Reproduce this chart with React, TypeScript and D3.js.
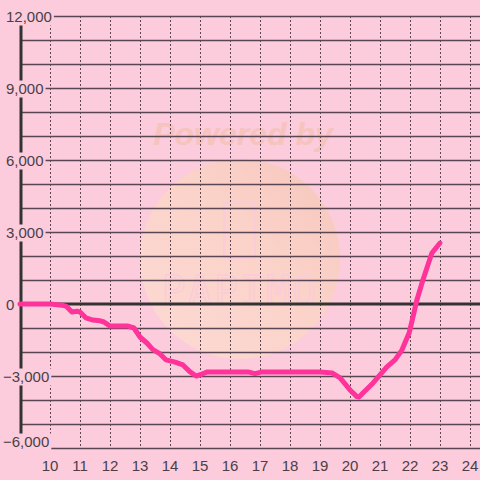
import React, { useEffect, useRef } from "react";
import * as d3 from "d3";

const hours = [9, 10, 10.4, 10.55, 10.73, 10.9, 11.0, 11.2, 11.43, 11.67, 11.8, 12.0, 12.6, 12.8, 13.0, 13.23, 13.43, 13.67, 13.87, 14.17, 14.43, 14.67, 14.87, 15.07, 15.23, 16.0, 16.6, 16.83, 17.07, 18.0, 19.0, 19.4, 19.67, 20.0, 20.23, 20.3, 20.43, 20.77, 21.0, 21.23, 21.5, 21.73, 21.97, 22.1, 22.23, 22.43, 22.73, 23.0];
const values = [0, 0, -50, -100, -330, -300, -330, -580, -670, -700, -750, -920, -920, -1000, -1375, -1625, -1900, -2080, -2330, -2420, -2540, -2830, -3000, -2920, -2830, -2830, -2830, -2900, -2830, -2830, -2830, -2870, -3080, -3580, -3860, -3880, -3710, -3290, -2950, -2620, -2330, -1920, -1210, -540, 170, 1000, 2125, 2540];
const xTicks = [10, 11, 12, 13, 14, 15, 16, 17, 18, 19, 20, 21, 22, 23, 24];
const yLabelTicks = [12000, 9000, 6000, 3000, 0, -3000, -6000];
const yGridTicks = [12000, 11000, 10000, 9000, 8000, 7000, 6000, 5000, 4000, 3000, 2000, 1000, -1000, -2000, -3000, -4000, -5000, -6000];

const BG = "#fccbdc";
const FONT = "Liberation Sans, Arial, sans-serif";

export default function App() {
  const ref = useRef<SVGSVGElement | null>(null);
  useEffect(() => {
    const svg = d3.select(ref.current);
    svg.selectAll("*").remove();
    const x = d3.scaleLinear().domain([10, 24]).range([50, 470]);
    const y = d3.scaleLinear().domain([-6000, 12000]).range([448, 16]);

    svg.append("rect").attr("width", 480).attr("height", 480).attr("fill", BG);

    // watermark
    const defs = svg.append("defs");
    const g = defs.append("linearGradient").attr("id", "wm").attr("x1", "0").attr("y1", "1").attr("x2", "1").attr("y2", "0");
    g.append("stop").attr("offset", "0").attr("stop-color", "#fcdad4");
    g.append("stop").attr("offset", "0.6").attr("stop-color", "#fbd2c8");
    g.append("stop").attr("offset", "1").attr("stop-color", "#f6c6bc");
    svg.append("circle").attr("cx", 240).attr("cy", 259).attr("r", 100).attr("fill", "url(#wm)");
    svg.append("text").attr("x", 243).attr("y", 145).attr("text-anchor", "middle")
      .attr("font-family", FONT).attr("font-weight", "bold").attr("font-style", "italic")
      .attr("font-size", 32).attr("fill", "#f6c3bd").text("Powered by");
    svg.append("rect").attr("x", 224).attr("y", 203).attr("width", 31).attr("height", 55).attr("rx", 2)
      .attr("fill", "none").attr("stroke", "#fccbd8").attr("stroke-width", 2);
    svg.append("text").attr("x", 240).attr("y", 305).attr("text-anchor", "middle")
      .attr("font-family", "DejaVu Sans Mono, monospace").attr("font-size", 40).attr("letter-spacing", 2)
      .attr("fill", "none").attr("stroke", "#fccbd8").attr("stroke-width", 1.5).text("PAPIMO");

    // horizontal grid
    svg.append("g").selectAll("line").data(yGridTicks).join("line")
      .attr("x1", d => (d === -6000 ? 50 : 21)).attr("x2", 480)
      .attr("y1", d => y(d) + 0.5).attr("y2", d => y(d) + 0.5)
      .attr("stroke", "#5a4552").attr("stroke-width", 1.3);

    // vertical grid
    svg.append("g").selectAll("line").data(xTicks).join("line")
      .attr("x1", d => x(d) + 0.5).attr("x2", d => x(d) + 0.5)
      .attr("y1", 16).attr("y2", 448)
      .attr("stroke", "#5a4552").attr("stroke-width", 1).attr("stroke-dasharray", "2,2");

    // y axis
    svg.append("line").attr("x1", 21).attr("x2", 21).attr("y1", 16).attr("y2", 448)
      .attr("stroke", "#333").attr("stroke-width", 3);
    // zero line
    svg.append("line").attr("x1", 21).attr("x2", 480).attr("y1", y(0)).attr("y2", y(0))
      .attr("stroke", "#333").attr("stroke-width", 3);

    // y labels with background
    const yl = svg.append("g");
    yLabelTicks.forEach(v => {
      const ty = y(v) + 5.5 - (v === -6000 ? 7 : 0);
      const t = yl.append("text").attr("x", v < 0 ? 3 : 6).attr("y", ty).attr("text-anchor", "start")
        .attr("font-family", FONT).attr("font-size", 15).attr("fill", "#4a3f47")
        .text(d3.format(",")(v));
      const bb = (t.node() as SVGTextElement).getBBox();
      yl.insert("rect", () => t.node() as any).attr("x", bb.x - 1).attr("y", bb.y + 1).attr("width", bb.width + 3).attr("height", bb.height + (v === -6000 ? 8 : 0))
        .attr("fill", BG);
    });

    // x labels
    svg.append("g").selectAll("text").data(xTicks).join("text")
      .attr("x", d => x(d)).attr("y", 471).attr("text-anchor", "middle")
      .attr("font-family", FONT).attr("font-size", 15).attr("fill", "#4a3f47")
      .text(d => String(d));

    // series
    const line = d3.line<number>().x((_, i) => x(hours[i])).y(d => y(d));
    svg.append("path").attr("d", line(values) as string).attr("fill", "none")
      .attr("stroke", "#ff3399").attr("stroke-width", 5).attr("stroke-linejoin", "round").attr("stroke-linecap", "round");
  }, []);
  return (
    <svg ref={ref} width={480} height={480} style={{ position: "absolute", left: 0, top: 0 }} />
  );
}
